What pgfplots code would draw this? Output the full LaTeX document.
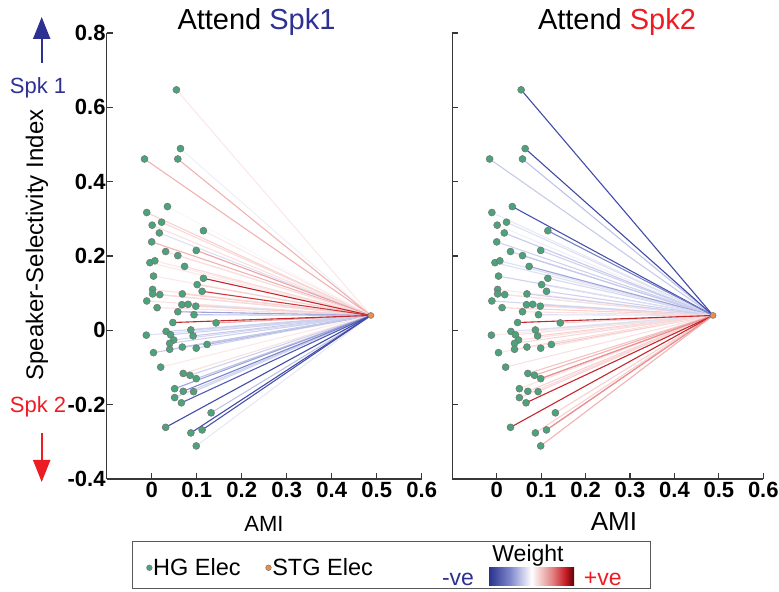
\documentclass[border=0pt]{standalone}
\usepackage{fontspec}
\setmainfont{Liberation Sans}
\usepackage{pgfplots}
\usepackage{pgfplotstable}
\pgfplotsset{compat=1.18}
\usetikzlibrary{arrows.meta}
\definecolor{spkblue}{RGB}{46,49,146}
\definecolor{spkred}{RGB}{237,28,36}
\definecolor{hgc}{RGB}{76,162,122}
\definecolor{stgc}{RGB}{240,140,70}
\definecolor{axc}{RGB}{55,55,55}
\pgfplotsset{colormap={wbr}{rgb255(0cm)=(40,50,150); rgb255(3cm)=(90,100,185); rgb255(6cm)=(190,195,232); rgb255(10cm)=(255,255,255); rgb255(14cm)=(246,195,195); rgb255(17cm)=(222,95,100); rgb255(18.5cm)=(195,40,45); rgb255(20cm)=(120,0,10)}}
\pgfdeclarehorizontalshading{wbar}{100bp}{rgb(0bp)=(0.16,0.2,0.55); rgb(25bp)=(0.16,0.2,0.55); rgb(37.5bp)=(0.5,0.53,0.8); rgb(50bp)=(1,1,1); rgb(62.5bp)=(0.88,0.5,0.5); rgb(70bp)=(0.78,0.1,0.14); rgb(75bp)=(0.35,0.02,0.04); rgb(100bp)=(0.35,0.02,0.04)}

\pgfplotstableread{
x y wL wR
0.055 0.647 0.15 -0.85
0.064 0.489 -0.10 -0.85
-0.016 0.461 0.45 -0.35
0.058 0.461 0.45 -0.40
0.035 0.333 -0.05 -0.80
-0.011 0.317 0.30 -0.15
0.001 0.283 0.20 -0.10
0.022 0.291 0.25 -0.20
0.017 0.262 -0.20 -0.35
0.115 0.268 0.15 -0.60
0.000 0.238 0.45 -0.30
0.031 0.212 0.20 -0.30
0.058 0.201 0.20 -0.35
0.099 0.215 0.50 -0.30
-0.004 0.182 0.15 -0.20
0.007 0.187 0.15 -0.20
0.073 0.172 0.25 -0.50
0.004 0.146 0.15 -0.30
0.115 0.140 0.85 -0.25
0.101 0.123 0.30 -0.20
0.002 0.110 0.20 0.15
0.002 0.098 0.30 -0.20
0.018 0.096 0.25 0.20
0.068 0.098 0.30 -0.30
0.112 0.105 0.80 -0.30
-0.011 0.079 0.20 -0.25
0.012 0.061 0.20 0.30
0.067 0.069 0.30 0.20
0.081 0.070 -0.20 -0.30
0.098 0.065 0.30 0.25
0.058 0.050 -0.50 0.20
0.094 0.042 -0.40 -0.20
0.047 0.021 0.85 0.85
0.143 0.020 0.50 0.30
-0.012 -0.013 -0.20 0.15
0.032 -0.003 -0.30 -0.20
0.042 -0.012 -0.30 0.20
0.087 0.001 -0.30 -0.20
0.092 -0.015 -0.35 0.30
0.049 -0.026 -0.25 0.20
0.040 -0.035 -0.30 0.25
0.040 -0.051 -0.20 0.30
0.068 -0.045 -0.40 0.30
0.099 -0.048 -0.30 0.20
0.123 -0.038 -0.45 0.40
0.004 -0.060 -0.35 0.15
0.020 -0.099 0.15 0.20
0.070 -0.116 0.20 0.40
0.085 -0.121 -0.30 0.45
0.099 -0.130 -0.40 0.55
0.051 -0.157 -0.50 0.20
0.070 -0.164 -0.60 0.30
0.093 -0.165 -0.30 0.30
0.051 -0.181 -0.30 0.25
0.066 -0.195 -0.75 0.85
0.132 -0.222 -0.40 0.30
0.031 -0.261 -0.85 0.85
0.112 -0.268 -0.80 0.55
0.087 -0.276 -0.85 0.30
0.099 -0.311 -0.15 0.45
}\hg

\pgfplotsset{panel/.style={
  scale only axis, height=446bp,
  xmin=-0.1, xmax=0.6, ymin=-0.4, ymax=0.8,
  axis x line*=bottom, axis y line*=left,
  axis line style={axc, line width=1.2bp},
  tick style={axc, line width=1.2bp},
  tick align=inside, major tick length=6bp,
  xtick={0,0.1,0.2,0.3,0.4,0.5,0.6},
  ytick={-0.4,-0.2,0,0.2,0.4,0.6,0.8},
  /pgf/number format/assume math mode=true,
  ticklabel style={font=\fontsize{22bp}{26bp}\selectfont\bfseries},
  yticklabel style={inner xsep=1bp},
  colormap name=wbr, point meta min=-1, point meta max=1,
  clip=false,
}}

\begin{document}
\begin{tikzpicture}
\useasboundingbox (0,0) rectangle (779bp,592bp);

% Left panel
\begin{axis}[panel, width=315bp, at={(106.7bp,113bp)}, anchor=south west,
  legend columns=2,
  legend image code/.code={\draw[#1,mark size=2.8bp] plot coordinates {(0bp,0bp)};},
  legend style={at={(0.126,-0.199)}, anchor=west, draw=none, fill=none, inner sep=0pt,
    font=\fontsize{23.5bp}{27bp}\selectfont, nodes={inner sep=1bp},
    /tikz/every even column/.append style={column sep=24bp}},
]
\addplot[forget plot, line width=1.1bp, point meta=\thisrow{wL},
  restrict expr to domain={abs(\thisrow{wL})}{0:0.55},
  quiver={u={0.487-\thisrow{x}}, v={0.040-\thisrow{y}}, colored}]
  table[x=x,y=y]{\hg};
\addplot[forget plot, line width=1.1bp, point meta=\thisrow{wL},
  restrict expr to domain={abs(\thisrow{wL})}{0.55:2},
  quiver={u={0.487-\thisrow{x}}, v={0.040-\thisrow{y}}, colored}]
  table[x=x,y=y]{\hg};
\addplot[only marks, mark=*, mark size=3.5bp, mark options={fill=hgc, draw=black!55, line width=0.5bp}]
  table[x=x,y=y]{\hg};
\addlegendentry{HG Elec}
\addplot[only marks, mark=*, mark size=3bp, mark options={fill=stgc, draw=black!55, line width=0.5bp}]
  coordinates {(0.487,0.040)};
\addlegendentry{STG Elec}
\end{axis}

% Right panel
\begin{axis}[panel, width=311bp, at={(452.3bp,113bp)}, anchor=south west,
  yticklabels={}]
\addplot[forget plot, line width=1.1bp, point meta=\thisrow{wR},
  restrict expr to domain={abs(\thisrow{wR})}{0:0.55},
  quiver={u={0.487-\thisrow{x}}, v={0.040-\thisrow{y}}, colored}]
  table[x=x,y=y]{\hg};
\addplot[forget plot, line width=1.1bp, point meta=\thisrow{wR},
  restrict expr to domain={abs(\thisrow{wR})}{0.55:2},
  quiver={u={0.487-\thisrow{x}}, v={0.040-\thisrow{y}}, colored}]
  table[x=x,y=y]{\hg};
\addplot[only marks, mark=*, mark size=3.5bp, mark options={fill=hgc, draw=black!55, line width=0.5bp}]
  table[x=x,y=y]{\hg};
\addplot[only marks, mark=*, mark size=3bp, mark options={fill=stgc, draw=black!55, line width=0.5bp}]
  coordinates {(0.487,0.040)};
\end{axis}

% Titles and labels
\node[anchor=base, font=\fontsize{29bp}{34bp}\selectfont] at (256.5bp,562bp) {Attend \textcolor{spkblue}{Spk1}};
\node[anchor=base, font=\fontsize{29bp}{34bp}\selectfont] at (617bp,562bp) {Attend \textcolor{spkred}{Spk2}};
\node[rotate=90, font=\fontsize{24bp}{28bp}\selectfont] at (37bp,347bp) {Speaker-Selectivity Index};
\node[font=\fontsize{22bp}{26bp}\selectfont] at (264bp,68bp) {AMI};
\node[font=\fontsize{26bp}{30bp}\selectfont] at (614bp,70bp) {AMI};

% Spk arrows
\draw[spkblue, line width=2.2bp, -{Triangle[width=17bp,length=22bp]}] (41.7bp,529bp) -- (41.7bp,575bp);
\node[anchor=base, text=spkblue, font=\fontsize{22bp}{26bp}\selectfont] at (38bp,498bp) {Spk 1};
\draw[spkred, line width=2.2bp, -{Triangle[width=17bp,length=22bp]}] (41.7bp,159bp) -- (41.7bp,110bp);
\node[anchor=base, text=spkred, font=\fontsize{22bp}{26bp}\selectfont] at (38bp,179bp) {Spk 2};

% Legend box and colour bar
\draw[black!65, line width=1bp] (132.7bp,3bp) rectangle (650bp,50bp);
\node[anchor=base, font=\fontsize{23bp}{27bp}\selectfont] at (528bp,30.3bp) {Weight};
\node[anchor=base, text=spkblue, font=\fontsize{23bp}{27bp}\selectfont] at (458bp,7bp) {-ve};
\node[anchor=base, text=spkred, font=\fontsize{23bp}{27bp}\selectfont] at (602.7bp,7bp) {+ve};
\shade[shading=wbar] (489bp,6.3bp) rectangle (574bp,24bp);
\end{tikzpicture}
\end{document}
